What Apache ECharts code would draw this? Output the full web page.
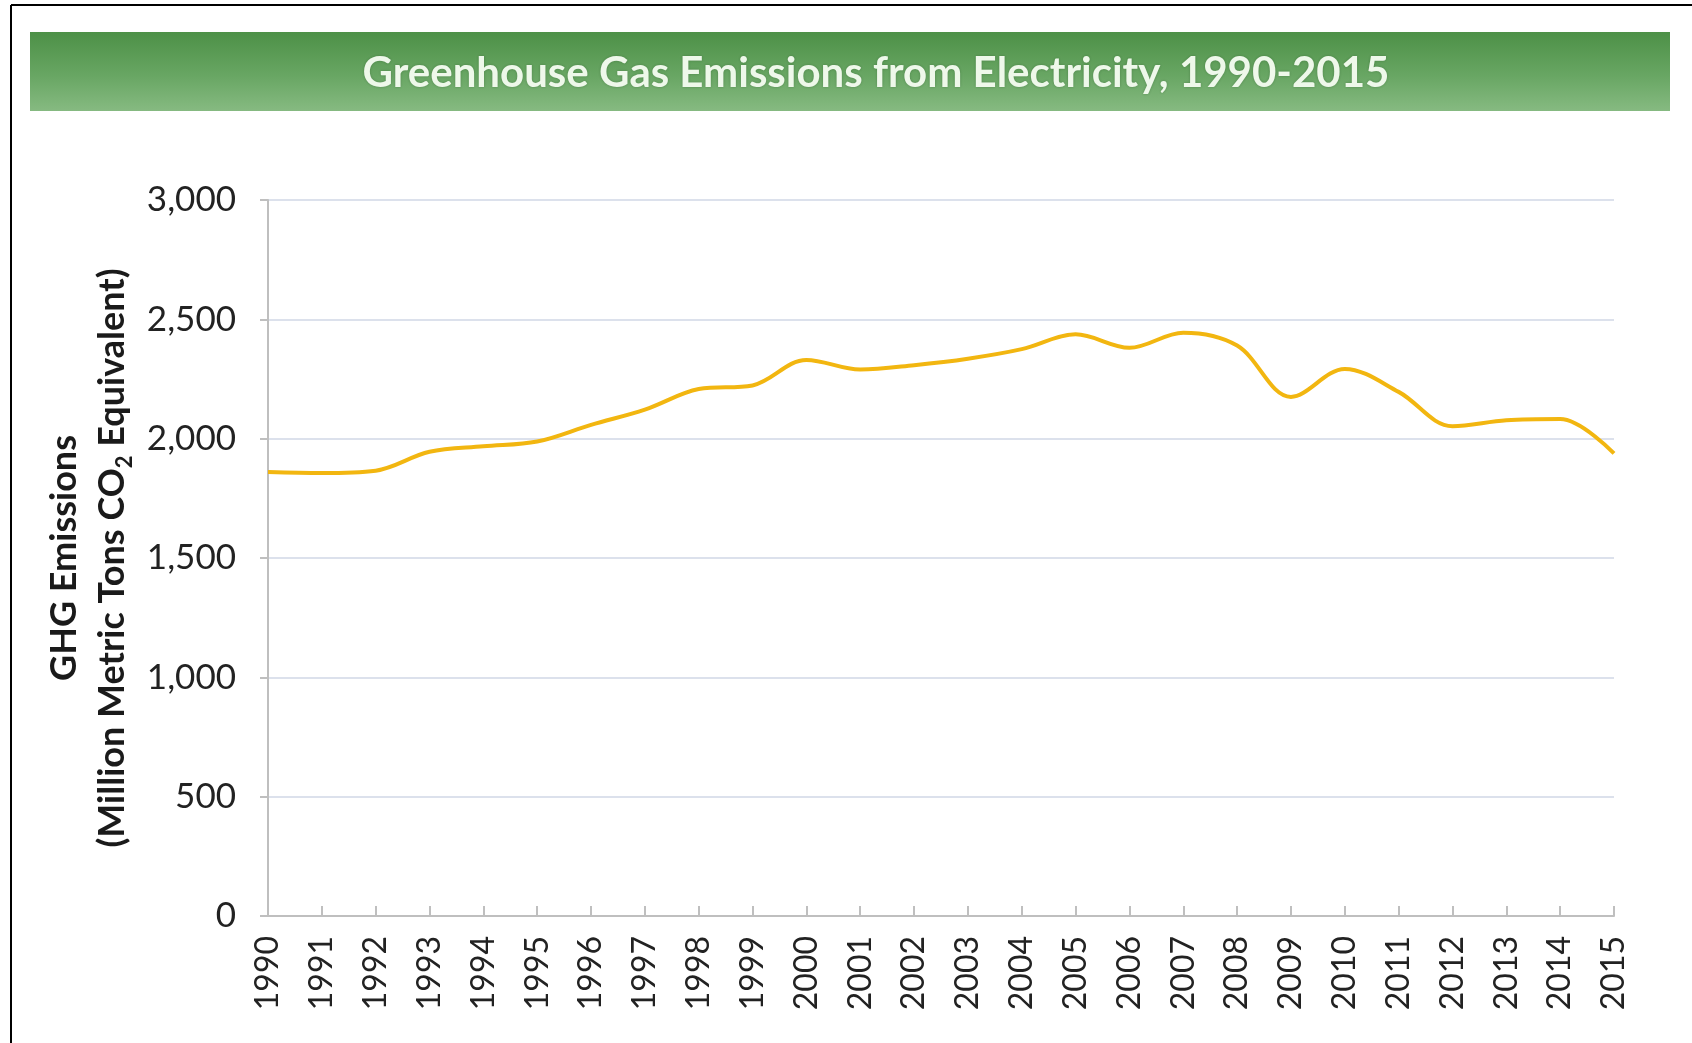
<!DOCTYPE html>
<html>
<head>
<meta charset="utf-8">
<script src="https://cdn.jsdelivr.net/npm/echarts@6/dist/echarts.min.js"></script>
<style>
  html, body { margin: 0; padding: 0; background: #ffffff; }
  #chart { width: 1692px; height: 1043px; }
</style>
</head>
<body>
<div id="chart"></div>
<script>
// Years on the horizontal axis
const years = ['1990','1991','1992','1993','1994','1995','1996','1997','1998','1999',
  '2000','2001','2002','2003','2004','2005','2006','2007','2008','2009',
  '2010','2011','2012','2013','2014','2015'];

// Electricity-sector GHG emissions, million metric tons CO2 equivalent
const emissions = [1860, 1856, 1866, 1945, 1968, 1988, 2058, 2122, 2208, 2223,
  2330, 2290, 2308, 2335, 2375, 2437, 2381, 2444, 2390, 2175,
  2292, 2196, 2052, 2077, 2082, 1938];

// Value-axis ticks
const yTicks = { min: 0, max: 3000, interval: 500 };

const titleText = 'Greenhouse Gas Emissions from Electricity, 1990-2015';

const chart = echarts.init(document.getElementById('chart'), null, { renderer: 'canvas' });

chart.setOption({
  backgroundColor: '#ffffff',
  animation: false,
  title: {
    text: titleText,
    left: 871,
    top: 47,
    textAlign: 'center',
    textStyle: {
      fontFamily: 'Lato',
      fontWeight: 'bold',
      fontSize: 42,
      color: '#EEF8EA',
      textShadowColor: 'rgba(30,70,30,0.35)',
      textShadowBlur: 3
    },
    z: 10
  },
  graphic: [
    {
      type: 'rect',
      shape: { x: 30, y: 32, width: 1640, height: 79 },
      style: {
        fill: new echarts.graphic.LinearGradient(0, 0, 0, 1, [
          { offset: 0, color: '#4D9047' },
          { offset: 0.55, color: '#68A663' },
          { offset: 1, color: '#86BA81' }
        ])
      },
      z: 0
    },
    {
      type: 'line',
      shape: { x1: 11, y1: 5, x2: 1692, y2: 5 },
      style: { stroke: '#000000', lineWidth: 2 }
    },
    {
      type: 'line',
      shape: { x1: 11, y1: 5, x2: 11, y2: 1043 },
      style: { stroke: '#000000', lineWidth: 2 }
    }
  ],
  grid: {
    left: 268,
    right: 78,
    top: 200,
    bottom: 127,
    containLabel: false
  },
  xAxis: {
    type: 'category',
    data: years,
    boundaryGap: false,
    axisLine: { lineStyle: { color: '#BFBFBF', width: 2 } },
    axisTick: { inside: true, length: 10, lineStyle: { color: '#BFBFBF', width: 2 }, interval: 0 },
    axisLabel: {
      interval: 0,
      rotate: 90,
      margin: 20,
      fontFamily: 'Lato',
      fontSize: 32,
      color: '#222222'
    },
    splitLine: { show: false }
  },
  yAxis: {
    type: 'value',
    min: yTicks.min,
    max: yTicks.max,
    interval: yTicks.interval,
    name: '{a|GHG Emissions}\n{a|(Million Metric Tons CO}{s|2}{a| Equivalent)}',
    nameLocation: 'middle',
    nameRotate: 90,
    nameGap: 119,
    nameTextStyle: {
      rich: {
        a: { fontFamily: 'Lato', fontWeight: 'bold', fontSize: 36, color: '#1a1a1a', lineHeight: 48 },
        s: { fontFamily: 'Lato', fontWeight: 'bold', fontSize: 22, color: '#1a1a1a', lineHeight: 22, verticalAlign: 'bottom' }
      }
    },
    axisLine: { show: true, lineStyle: { color: '#BFBFBF', width: 2 } },
    axisTick: { show: true, length: 8, lineStyle: { color: '#BFBFBF', width: 2 } },
    axisLabel: {
      margin: 32,
      fontFamily: 'Lato',
      fontSize: 35,
      color: '#222222',
      formatter: v => v.toLocaleString('en-US')
    },
    splitLine: { lineStyle: { color: '#DCE1EC', width: 2 } }
  },
  series: [{
    type: 'line',
    data: emissions,
    smooth: 0.35,
    symbol: 'none',
    lineStyle: { color: '#F2B610', width: 4 },
    z: 5
  }]
});
</script>
</body>
</html>
